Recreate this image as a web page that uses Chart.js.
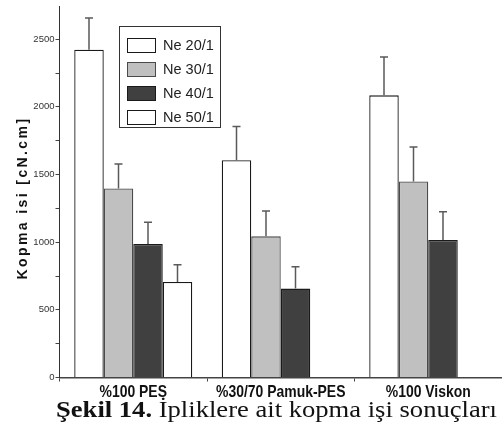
<!DOCTYPE html>
<html>
<head>
<meta charset="utf-8">
<script src="https://cdn.jsdelivr.net/npm/chart.js@4/dist/chart.umd.min.js"></script>
<style>
  html, body { margin: 0; padding: 0; background: #fff; overflow: hidden; }
  #wrap { position: relative; width: 502px; height: 437px; }
</style>
</head>
<body>
<div id="wrap"><canvas id="c" width="502" height="437"></canvas></div>
<script>
// Yarn types on the x axis
const categories = ['%100 PES', '%30/70 Pamuk-PES', '%100 Viskon'];

// Yarn counts (series)
const seriesLabels = ['Ne 20/1', 'Ne 30/1', 'Ne 40/1', 'Ne 50/1'];

// Breaking work, cN.cm (mean values)
const ne20 = [2422, 1605, 2085];
const ne30 = [1397, 1043, 1448];
const ne40 = [987, 657, 1016];
const ne50 = [706, null, null];

// Standard deviations drawn as upper error bars
const ne20Err = [234, 249, 283];
const ne30Err = [180, 188, 256];
const ne40Err = [161, 161, 208];
const ne50Err = [127, null, null];

// Y axis ticks (labelled every 500, minor every 250)
const yTicks = [0, 250, 500, 750, 1000, 1250, 1500, 1750, 2000, 2250, 2500];
const yMax = 2740;

const yTitle = 'Kopma isi [cN.cm]';
const captionBold = 'Şekil 14.';
const captionText = ' İpliklere ait kopma işi sonuçları';

const fills = ['#ffffff', '#c0c0c0', '#404040', '#ffffff'];
const borders = ['#1a1a1a', '#4a4a4a', '#1a1a1a', '#1a1a1a'];
const values = [ne20, ne30, ne40, ne50];
const errors = [ne20Err, ne30Err, ne40Err, ne50Err];

const datasets = seriesLabels.map((label, i) => ({
  label,
  data: values[i],
  errors: errors[i],
  backgroundColor: fills[i],
  borderColor: borders[i],
  borderWidth: 1.3,
  borderSkipped: 'bottom',
  barPercentage: 1.0,
  categoryPercentage: 0.8
}));

// Upper error bars with a small cap
const errorBars = {
  id: 'errorBars',
  afterDatasetsDraw(chart) {
    const ctx = chart.ctx;
    const y = chart.scales.y;
    ctx.save();
    ctx.strokeStyle = '#5a5a5a';
    ctx.lineWidth = 1.5;
    chart.data.datasets.forEach((ds, di) => {
      const meta = chart.getDatasetMeta(di);
      meta.data.forEach((bar, i) => {
        const v = ds.data[i], e = ds.errors[i];
        if (v == null || e == null) return;
        const top = y.getPixelForValue(v + e);
        ctx.beginPath();
        ctx.moveTo(bar.x, bar.y);
        ctx.lineTo(bar.x, top);
        ctx.moveTo(bar.x - 4, top);
        ctx.lineTo(bar.x + 4, top);
        ctx.stroke();
      });
    });
    ctx.restore();
  }
};

// Boxed legend inside the plot, condensed category labels, axis title and caption
const decorations = {
  id: 'decorations',
  afterDraw(chart) {
    const ctx = chart.ctx;
    ctx.save();

    // legend box
    const bx = 119.5, by = 26.5, bw = 101, bh = 101;
    ctx.fillStyle = '#fff';
    ctx.fillRect(bx, by, bw, bh);
    ctx.strokeStyle = '#333';
    ctx.lineWidth = 1;
    ctx.strokeRect(bx, by, bw, bh);
    ctx.font = '14.5px "Liberation Sans", Arial, sans-serif';
    ctx.textBaseline = 'middle';
    chart.data.datasets.forEach((ds, i) => {
      const cy = 45.5 + i * 24;
      ctx.fillStyle = ds.backgroundColor;
      ctx.fillRect(127.5, cy - 7, 28, 14);
      ctx.strokeStyle = ds.borderColor;
      ctx.lineWidth = 1;
      ctx.strokeRect(127.5, cy - 7, 28, 14);
      ctx.fillStyle = '#222';
      ctx.fillText(ds.label, 163, cy + 0.5);
    });

    // category labels under the x axis (narrow bold face)
    const xs = chart.scales.x;
    ctx.font = 'bold 17px "Liberation Sans", Arial, sans-serif';
    ctx.fillStyle = '#111';
    ctx.textAlign = 'center';
    ctx.textBaseline = 'alphabetic';
    chart.data.labels.forEach((lab, i) => {
      ctx.save();
      ctx.translate(xs.getPixelForTick(i), 397);
      ctx.scale(0.82, 1);
      ctx.fillText(lab, 0, 0);
      ctx.restore();
    });

    // y axis title, letter-spaced
    ctx.save();
    ctx.translate(23, 198);
    ctx.rotate(-Math.PI / 2);
    ctx.font = 'bold 14px "Liberation Sans", Arial, sans-serif';
    ctx.letterSpacing = '2.4px';
    ctx.fillStyle = '#111';
    ctx.textAlign = 'center';
    ctx.textBaseline = 'middle';
    ctx.fillText(yTitle, 0, 0);
    ctx.restore();

    // caption: fixed height, stretched horizontally to the plot width
    const family = '"Liberation Serif", "DejaVu Serif", serif';
    const size = 23;
    ctx.font = 'bold ' + size + 'px ' + family;
    const w1 = ctx.measureText(captionBold).width;
    ctx.font = size + 'px ' + family;
    const w2 = ctx.measureText(captionText).width;
    const sx = 441 / (w1 + w2);
    ctx.save();
    ctx.translate(56, 417);
    ctx.scale(sx, 1);
    ctx.textBaseline = 'alphabetic';
    ctx.textAlign = 'left';
    ctx.fillStyle = '#111';
    ctx.font = 'bold ' + size + 'px ' + family;
    ctx.fillText(captionBold, 0, 0);
    ctx.font = size + 'px ' + family;
    ctx.fillText(captionText, w1, 0);
    ctx.restore();

    ctx.restore();
  }
};

new Chart(document.getElementById('c'), {
  type: 'bar',
  data: { labels: categories, datasets },
  plugins: [errorBars, decorations],
  options: {
    responsive: false,
    animation: false,
    devicePixelRatio: 1,
    layout: { padding: { left: 0, right: 0, top: 3, bottom: 35.5 } },
    plugins: {
      legend: { display: false },
      tooltip: { enabled: false }
    },
    scales: {
      x: {
        afterFit(scale) { scale.height = 24; },
        grid: {
          drawOnChartArea: false,
          drawTicks: true,
          tickLength: 4,
          color: '#444',
          offset: true
        },
        border: { display: true, color: '#444', width: 1.5 },
        ticks: {
          padding: 0,
          minRotation: 0,
          maxRotation: 0,
          autoSkip: false,
          color: 'rgba(0,0,0,0)',
          font: { family: '"Liberation Sans", Arial, sans-serif', size: 12, weight: 'bold' }
        }
      },
      y: {
        min: 0,
        max: yMax,
        afterFit(scale) { scale.width = 59.5; },
        afterBuildTicks(scale) { scale.ticks = yTicks.map(v => ({ value: v })); },
        grid: {
          drawOnChartArea: false,
          drawTicks: true,
          tickLength: 4,
          color: '#444'
        },
        border: { display: true, color: '#333', width: 1 },
        ticks: {
          padding: 1,
          color: '#333',
          font: { family: '"Liberation Sans", Arial, sans-serif', size: 9.5 },
          callback: v => (v % 500 === 0 ? String(v) : '')
        }
      }
    }
  }
});
</script>
</body>
</html>
